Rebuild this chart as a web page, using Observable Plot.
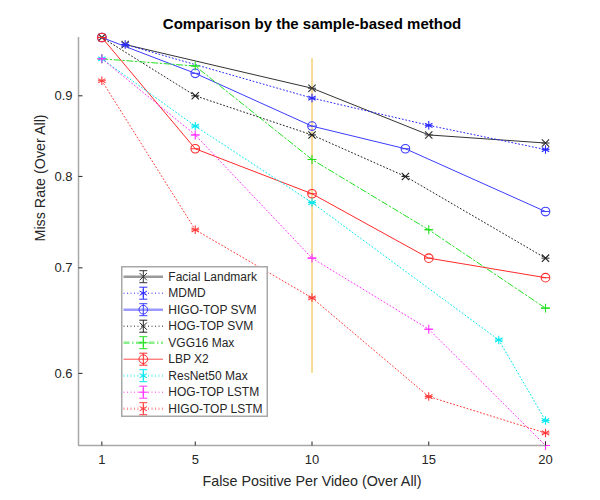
<!DOCTYPE html>
<html><head><meta charset="utf-8">
<script src="https://cdn.jsdelivr.net/npm/d3@7"></script>
<script src="https://cdn.jsdelivr.net/npm/@observablehq/plot@0.6"></script>
<style>
body{margin:0;background:#fff;font-family:"Liberation Sans",Arial,sans-serif;}
#wrap{position:relative;width:600px;height:500px;}
#legend{position:absolute;left:121px;top:266px;}
</style></head><body><div id="wrap"></div>
<script>
// ---- data ----
const titleText = ["Comparison by the sample-based method"];
const xLabel = ["False Positive Per Video (Over All)"];
const yLabel = ["Miss Rate (Over All)"];
const seriesNames = ["Facial Landmark","MDMD","HIGO-TOP SVM","HOG-TOP SVM","VGG16 Max","LBP X2","ResNet50 Max","HOG-TOP LSTM","HIGO-TOP LSTM"];
const facialX = [2,10,15,20],      facialY = [0.97,0.91,0.85,0.84];
const mdmdX = [2,10,15,20],        mdmdY = [0.97,0.897,0.862,0.832];
const higoSvmX = [1,5,10,14,20],   higoSvmY = [0.98,0.93,0.861,0.833,0.76];
const hogSvmX = [1,5,10,14,20],    hogSvmY = [0.98,0.90,0.85,0.80,0.71];
const vggX = [1,5,10,15,20],       vggY = [0.95,0.94,0.82,0.74,0.66];
const lbpX = [1,5,10,15,20],       lbpY = [0.98,0.833,0.78,0.71,0.69];
const resnetX = [1,5,10,18,20],    resnetY = [0.95,0.861,0.77,0.63,0.56];
const hogLstmX = [1,5,10,15,20],   hogLstmY = [0.95,0.85,0.71,0.64,0.54];
const higoLstmX = [1,5,10,15,20],  higoLstmY = [0.92,0.74,0.67,0.58,0.55];
const errX = [10], errLow = [0.60], errHigh = [0.95];
const xTicks = [1,5,10,15,20];
const yTicks = [0.6,0.7,0.8,0.9];
const xDomain = [0,20];
const yDomain = [0.54,0.98];

const seriesX = [facialX,mdmdX,higoSvmX,hogSvmX,vggX,lbpX,resnetX,hogLstmX,higoLstmX];
const seriesY = [facialY,mdmdY,higoSvmY,hogSvmY,vggY,lbpY,resnetY,hogLstmY,higoLstmY];

// ---- styles ----
const DOT = "1,2.5", DASHDOT = "6,2.5,1.5,2.5";
const styles = [
  {color:"#333333", dash:null,    sym:"times",    r:3.4, lcolor:"#9a9a9a", lw:2.5},
  {color:"#2a2aff", dash:DOT,     sym:"asterisk", r:4.0, lcolor:"#2a2aff", lw:1},
  {color:"#3c3cff", dash:null,    sym:"circle",   r:4.3, lcolor:"#9a9aff", lw:2.5},
  {color:"#222222", dash:DOT,     sym:"times",    r:3.4, lcolor:"#222222", lw:1},
  {color:"#22e022", dash:DASHDOT, sym:"plus",     r:3.0, lcolor:"#88f088", lw:2.5},
  {color:"#ff2a2a", dash:null,    sym:"circle",   r:4.3, lcolor:"#ff4a4a", lw:1},
  {color:"#00e8f0", dash:DOT,     sym:"asterisk", r:4.0, lcolor:"#80f2f6", lw:2.5},
  {color:"#ff30ff", dash:DOT,     sym:"plus",     r:3.0, lcolor:"#ff30ff", lw:1},
  {color:"#ff3a3a", dash:DOT,     sym:"asterisk", r:4.0, lcolor:"#ff9090", lw:2.5}
];
const capSym = {draw(ctx,size){const r=Math.sqrt(size/Math.PI); ctx.moveTo(-r,0); ctx.lineTo(r,0);}};
const vTick = {draw(ctx){ctx.moveTo(0,0); ctx.lineTo(0,-4);}};
const hTick = {draw(ctx){ctx.moveTo(0,0); ctx.lineTo(4,0);}};
const axisColor = "#a8a8a8", textColor = "#262626";

const marks = [
  Plot.ruleX(errX.map((x,i)=>({x, y1:errLow[i], y2:errHigh[i]})), {x:"x", y1:"y1", y2:"y2", stroke:"#f0b432", strokeWidth:1})
];
seriesNames.forEach((name,s)=>{
  const st = styles[s];
  const data = seriesX[s].map((x,i)=>({x, y:seriesY[s][i], name}));
  marks.push(Plot.line(data, {x:"x", y:"y", stroke:st.color, strokeWidth:1, strokeDasharray:st.dash || undefined}));
  marks.push(Plot.dot(data, {x:"x", y:"y", symbol:st.sym, r:st.r, stroke:st.color, fill:"none", strokeWidth:1.1}));
  marks.push(Plot.dot(data, {x:"x", y:"y", symbol:capSym, r:4, stroke:st.color, fill:"none", strokeWidth:1}));
});
marks.push(
  Plot.ruleX([xDomain[0]], {stroke:axisColor, strokeWidth:1.5}),
  Plot.ruleY([yDomain[0]], {stroke:axisColor, strokeWidth:1.5}),
  Plot.dot(xTicks, {x:d=>d, frameAnchor:"bottom", symbol:vTick, stroke:textColor, strokeWidth:1}),
  Plot.dot(yTicks, {y:d=>d, frameAnchor:"left", symbol:hTick, stroke:textColor, strokeWidth:1}),
  Plot.axisX({ticks:xTicks, tickSize:0, tickPadding:9, label:null, fontSize:13, fill:textColor, tickFormat:d=>String(d)}),
  Plot.axisY({ticks:yTicks, tickSize:0, tickPadding:6, label:null, fontSize:13, fill:textColor, tickFormat:d3.format(".1f")}),
  Plot.text(titleText, {text:d=>d, frameAnchor:"top", lineAnchor:"middle", dy:-13, fontSize:15, fontWeight:"bold", fill:"#000"}),
  Plot.text(xLabel, {text:d=>d, frameAnchor:"bottom", lineAnchor:"middle", dy:36, fontSize:14.3, fill:textColor}),
  Plot.text(yLabel, {text:d=>d, frameAnchor:"left", dx:-38, rotate:-90, fontSize:14.3, fill:textColor})
);

const chart = Plot.plot({
  width:600, height:500,
  marginLeft:78, marginRight:55, marginTop:37, marginBottom:55,
  style:{fontFamily:'"Liberation Sans", Arial, sans-serif', background:"#fff", overflow:"visible"},
  x:{domain:xDomain},
  y:{type:"log", domain:yDomain},
  marks
});
document.getElementById("wrap").appendChild(chart);

// ---- legend ----
const lw = 147, lh = 151, rowH = 16.5, row0 = 10.7;
const leg = d3.select("#wrap").append("svg").attr("id","legend").attr("width",lw).attr("height",lh)
  .style("font-family",'"Liberation Sans", Arial, sans-serif');
leg.append("rect").attr("x",0.75).attr("y",0.75).attr("width",lw-1.5).attr("height",lh-1.5)
  .attr("fill","#fff").attr("stroke","#a8a8a8").attr("stroke-width",1.5);
const symMap = {times:d3.symbolTimes, asterisk:d3.symbolAsterisk, circle:d3.symbolCircle, plus:d3.symbolPlus};
seriesNames.forEach((name,s)=>{
  const st = styles[s], y = row0 + s*rowH, mx = 22.3;
  const g = leg.append("g");
  g.append("line").attr("x1",2.5).attr("x2",42).attr("y1",y).attr("y2",y)
    .attr("stroke",st.lcolor).attr("stroke-width",st.lw).attr("stroke-dasharray",st.dash);
  g.append("line").attr("x1",mx).attr("x2",mx).attr("y1",y-6).attr("y2",y+6).attr("stroke",st.color).attr("stroke-width",1);
  g.append("line").attr("x1",mx-4).attr("x2",mx+4).attr("y1",y-6).attr("y2",y-6).attr("stroke",st.color).attr("stroke-width",1);
  g.append("line").attr("x1",mx-4).attr("x2",mx+4).attr("y1",y+6).attr("y2",y+6).attr("stroke",st.color).attr("stroke-width",1);
  g.append("path").attr("transform",`translate(${mx},${y})`)
    .attr("d", d3.symbol(symMap[st.sym], Math.PI*st.r*st.r)())
    .attr("fill","none").attr("stroke",st.color).attr("stroke-width",1);
  g.append("text").attr("x",47.3).attr("y",y).attr("dy","0.35em").attr("font-size",12).attr("fill",textColor).text(name);
});
</script></body></html>
